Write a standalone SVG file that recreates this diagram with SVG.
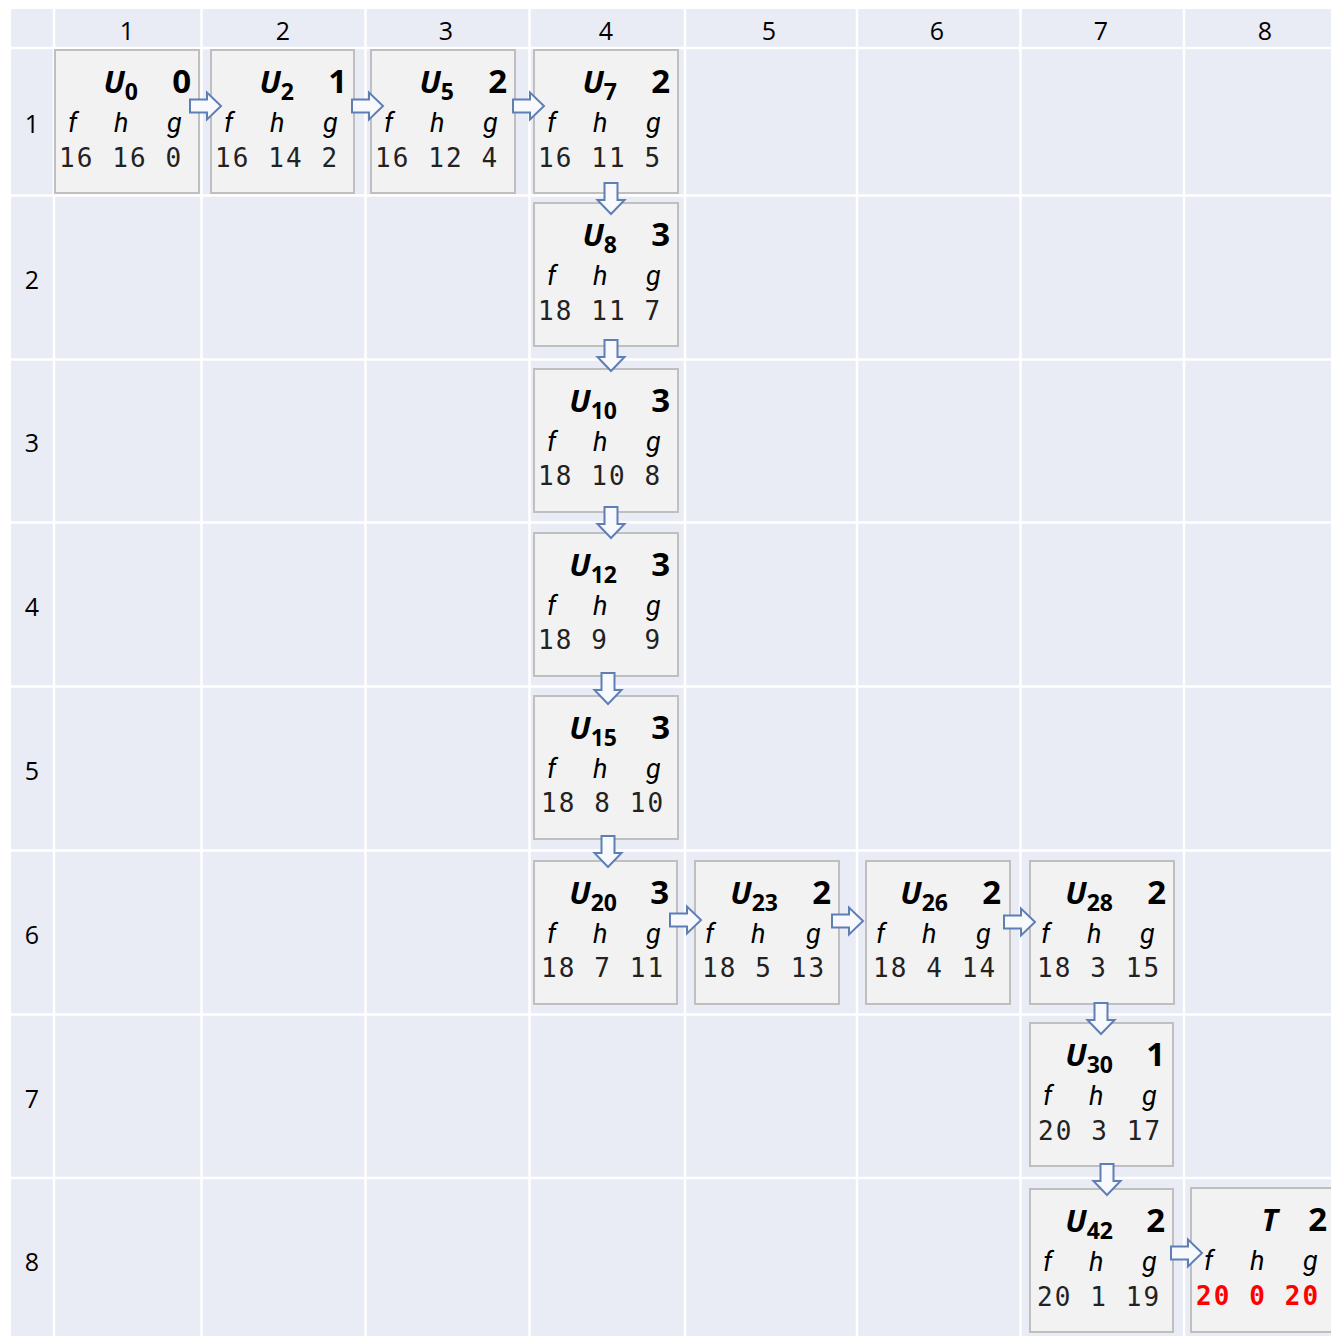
<svg xmlns="http://www.w3.org/2000/svg" xmlns:xlink="http://www.w3.org/1999/xlink" width="1331" height="1336" viewBox="0 0 1331 1336">
<style>
.gl{stroke:#FFFFFF;stroke-width:2.5;}
.lbl{font-family:"Open Sans",Lato,sans-serif;font-size:25px;fill:#000;text-anchor:middle;}
.box{fill:#F2F2F2;stroke:#BFBFBF;stroke-width:2;}
.hd{font-family:"Open Sans",Lato,sans-serif;font-size:31px;font-weight:bold;font-style:italic;text-anchor:end;fill:#000;}
.sub{font-size:23px;font-style:normal;}
.st{font-family:"Open Sans",Lato,sans-serif;font-size:33px;font-weight:bold;text-anchor:end;fill:#000;}
.fv{font-family:Roboto,"Liberation Sans",sans-serif;font-size:27px;font-style:italic;fill:#000;}
.num{font-family:"DejaVu Sans Mono","Liberation Mono",monospace;font-size:26px;letter-spacing:2.1px;fill:#222222;white-space:pre;}
.red{fill:#FF0000;font-weight:bold;}
.arr{fill:#F7F9FC;stroke:#5E7FB5;stroke-width:2;stroke-linejoin:miter;}
</style>
<defs>
<path id="ah" d="M0,-6.5 H17 V-13.5 L31,0 L17,13.5 V6.5 H0 Z"/>
</defs>
<rect x="0" y="0" width="1331" height="1336" fill="#FFFFFF"/>
<g id="grid">
<rect x="11" y="9" width="1320" height="1327" fill="#E9EBF5"/>
<g class="gl">
<line x1="54" y1="9" x2="54" y2="1336"/>
<line x1="201.5" y1="9" x2="201.5" y2="1336"/>
<line x1="365.5" y1="9" x2="365.5" y2="1336"/>
<line x1="529.5" y1="9" x2="529.5" y2="1336"/>
<line x1="685" y1="9" x2="685" y2="1336"/>
<line x1="857" y1="9" x2="857" y2="1336"/>
<line x1="1020.5" y1="9" x2="1020.5" y2="1336"/>
<line x1="1184" y1="9" x2="1184" y2="1336"/>
<line x1="11" y1="48" x2="1331" y2="48"/>
<line x1="11" y1="195.5" x2="1331" y2="195.5"/>
<line x1="11" y1="359.5" x2="1331" y2="359.5"/>
<line x1="11" y1="522.5" x2="1331" y2="522.5"/>
<line x1="11" y1="686.5" x2="1331" y2="686.5"/>
<line x1="11" y1="850.5" x2="1331" y2="850.5"/>
<line x1="11" y1="1014.5" x2="1331" y2="1014.5"/>
<line x1="11" y1="1178" x2="1331" y2="1178"/>
</g>
<g id="col-labels">
<text class="lbl" x="127" y="40">1</text>
<text class="lbl" x="283" y="40">2</text>
<text class="lbl" x="446" y="40">3</text>
<text class="lbl" x="606" y="40">4</text>
<text class="lbl" x="769" y="40">5</text>
<text class="lbl" x="937" y="40">6</text>
<text class="lbl" x="1101" y="40">7</text>
<text class="lbl" x="1265" y="40">8</text>
</g>
<g id="row-labels">
<text class="lbl" x="32" y="133">1</text>
<text class="lbl" x="32" y="289">2</text>
<text class="lbl" x="32" y="452">3</text>
<text class="lbl" x="32" y="616">4</text>
<text class="lbl" x="32" y="780">5</text>
<text class="lbl" x="32" y="944">6</text>
<text class="lbl" x="32" y="1108">7</text>
<text class="lbl" x="32" y="1271">8</text>
</g>
</g>
<g id="nodes">
<g id="U0"><rect class="box" x="55" y="50" width="144" height="143"/><text class="hd" x="138" y="93">U<tspan class="sub" dy="7">0</tspan></text><text class="st" x="191" y="93">0</text><text class="fv" y="132"><tspan x="68">f</tspan><tspan x="114">h</tspan><tspan x="167">g</tspan></text><text class="num" x="59" y="167">16 16 0</text></g>
<g id="U2"><rect class="box" x="211" y="50" width="143" height="143"/><text class="hd" x="294" y="93">U<tspan class="sub" dy="7">2</tspan></text><text class="st" x="347" y="93">1</text><text class="fv" y="132"><tspan x="224">f</tspan><tspan x="270">h</tspan><tspan x="323">g</tspan></text><text class="num" x="215" y="167">16 14 2</text></g>
<g id="U5"><rect class="box" x="371" y="50" width="144" height="143"/><text class="hd" x="454" y="93">U<tspan class="sub" dy="7">5</tspan></text><text class="st" x="507" y="93">2</text><text class="fv" y="132"><tspan x="384">f</tspan><tspan x="430">h</tspan><tspan x="483">g</tspan></text><text class="num" x="375" y="167">16 12 4</text></g>
<g id="U7"><rect class="box" x="534" y="50" width="144" height="143"/><text class="hd" x="617" y="93">U<tspan class="sub" dy="7">7</tspan></text><text class="st" x="670" y="93">2</text><text class="fv" y="132"><tspan x="547">f</tspan><tspan x="593">h</tspan><tspan x="646">g</tspan></text><text class="num" x="538" y="167">16 11 5</text></g>
<g id="U8"><rect class="box" x="534" y="203" width="144" height="143"/><text class="hd" x="617" y="246">U<tspan class="sub" dy="7">8</tspan></text><text class="st" x="670" y="246">3</text><text class="fv" y="285"><tspan x="547">f</tspan><tspan x="593">h</tspan><tspan x="646">g</tspan></text><text class="num" x="538" y="320">18 11 7</text></g>
<g id="U10"><rect class="box" x="534" y="369" width="144" height="143"/><text class="hd" x="617" y="412">U<tspan class="sub" dy="7">10</tspan></text><text class="st" x="670" y="412">3</text><text class="fv" y="451"><tspan x="547">f</tspan><tspan x="593">h</tspan><tspan x="646">g</tspan></text><text class="num" x="538" y="485">18 10 8</text></g>
<g id="U12"><rect class="box" x="534" y="533" width="144" height="143"/><text class="hd" x="617" y="576">U<tspan class="sub" dy="7">12</tspan></text><text class="st" x="670" y="576">3</text><text class="fv" y="615"><tspan x="547">f</tspan><tspan x="593">h</tspan><tspan x="646">g</tspan></text><text class="num" x="538" y="649">18 9  9</text></g>
<g id="U15"><rect class="box" x="534" y="696" width="144" height="143"/><text class="hd" x="617" y="739">U<tspan class="sub" dy="7">15</tspan></text><text class="st" x="670" y="739">3</text><text class="fv" y="778"><tspan x="547">f</tspan><tspan x="593">h</tspan><tspan x="646">g</tspan></text><text class="num" x="541" y="812">18 8 10</text></g>
<g id="U20"><rect class="box" x="534" y="861" width="143" height="143"/><text class="hd" x="617" y="904">U<tspan class="sub" dy="7">20</tspan></text><text class="st" x="669" y="904">3</text><text class="fv" y="943"><tspan x="547">f</tspan><tspan x="593">h</tspan><tspan x="646">g</tspan></text><text class="num" x="541" y="977">18 7 11</text></g>
<g id="U23"><rect class="box" x="695" y="861" width="144" height="143"/><text class="hd" x="778" y="904">U<tspan class="sub" dy="7">23</tspan></text><text class="st" x="831" y="904">2</text><text class="fv" y="943"><tspan x="705">f</tspan><tspan x="751">h</tspan><tspan x="806">g</tspan></text><text class="num" x="702" y="977">18 5 13</text></g>
<g id="U26"><rect class="box" x="866" y="861" width="144" height="143"/><text class="hd" x="948" y="904">U<tspan class="sub" dy="7">26</tspan></text><text class="st" x="1001" y="904">2</text><text class="fv" y="943"><tspan x="876">f</tspan><tspan x="922">h</tspan><tspan x="976">g</tspan></text><text class="num" x="873" y="977">18 4 14</text></g>
<g id="U28"><rect class="box" x="1030" y="861" width="144" height="143"/><text class="hd" x="1113" y="904">U<tspan class="sub" dy="7">28</tspan></text><text class="st" x="1166" y="904">2</text><text class="fv" y="943"><tspan x="1041">f</tspan><tspan x="1087">h</tspan><tspan x="1140">g</tspan></text><text class="num" x="1037" y="977">18 3 15</text></g>
<g id="U30"><rect class="box" x="1030" y="1023" width="143" height="143"/><text class="hd" x="1113" y="1066">U<tspan class="sub" dy="7">30</tspan></text><text class="st" x="1165" y="1066">1</text><text class="fv" y="1105"><tspan x="1043">f</tspan><tspan x="1089">h</tspan><tspan x="1142">g</tspan></text><text class="num" x="1038" y="1140">20 3 17</text></g>
<g id="U42"><rect class="box" x="1030" y="1189" width="143" height="143"/><text class="hd" x="1113" y="1232">U<tspan class="sub" dy="7">42</tspan></text><text class="st" x="1165" y="1232">2</text><text class="fv" y="1271"><tspan x="1043">f</tspan><tspan x="1089">h</tspan><tspan x="1142">g</tspan></text><text class="num" x="1037" y="1306">20 1 19</text></g>
<g id="T"><rect class="box" x="1191" y="1188" width="145" height="144"/><text class="hd" x="1278" y="1231">T</text><text class="st" x="1327" y="1231">2</text><text class="fv" y="1270"><tspan x="1204">f</tspan><tspan x="1250">h</tspan><tspan x="1303">g</tspan></text><text class="num red" x="1196" y="1305">20 0 20</text></g>
</g>
<g id="connectors" class="arr">
<use xlink:href="#ah" transform="translate(190,106)"/>
<use xlink:href="#ah" transform="translate(352,106)"/>
<use xlink:href="#ah" transform="translate(513,106)"/>
<use xlink:href="#ah" transform="translate(611,183) rotate(90)"/>
<use xlink:href="#ah" transform="translate(611,340) rotate(90)"/>
<use xlink:href="#ah" transform="translate(611,507) rotate(90)"/>
<use xlink:href="#ah" transform="translate(608,673) rotate(90)"/>
<use xlink:href="#ah" transform="translate(608,836) rotate(90)"/>
<use xlink:href="#ah" transform="translate(670,920)"/>
<use xlink:href="#ah" transform="translate(832,921)"/>
<use xlink:href="#ah" transform="translate(1004,922)"/>
<use xlink:href="#ah" transform="translate(1101,1003) rotate(90)"/>
<use xlink:href="#ah" transform="translate(1107,1164) rotate(90)"/>
<use xlink:href="#ah" transform="translate(1171,1253)"/>
</g>
</svg>
